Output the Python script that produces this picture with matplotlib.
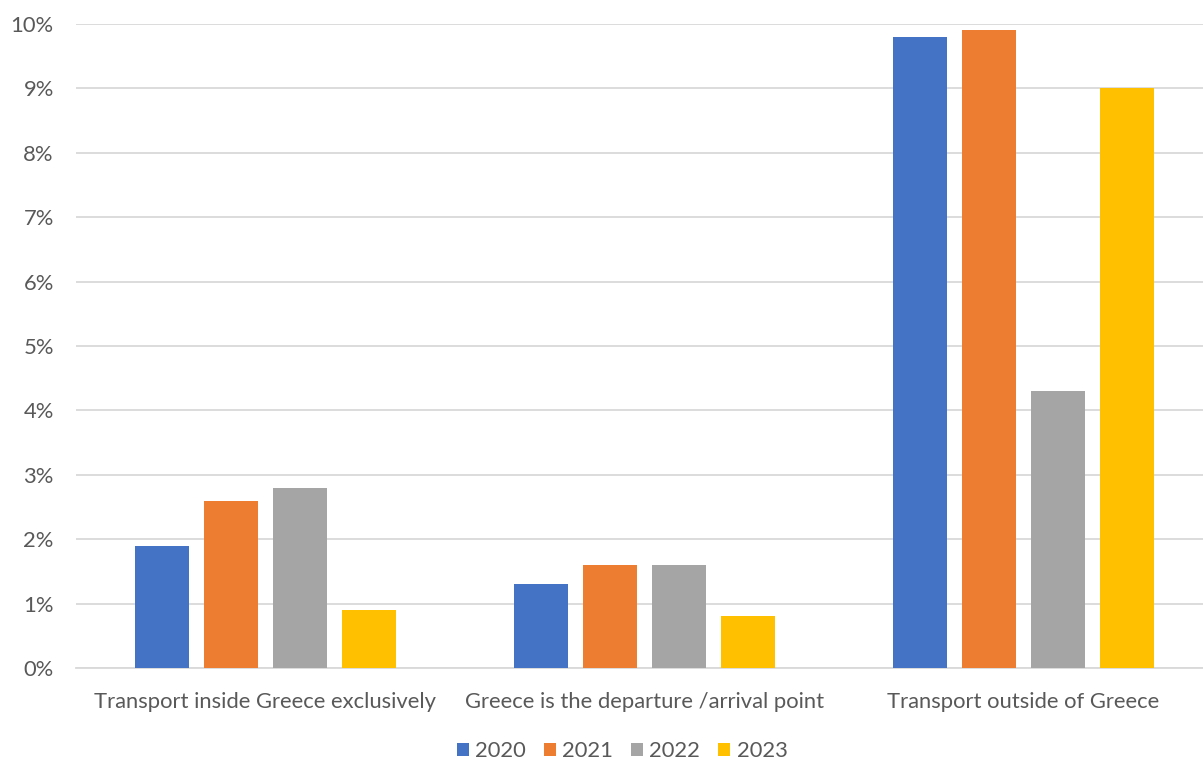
import matplotlib.pyplot as plt
import numpy as np

categories = ['Transport inside Greece exclusively',
              'Greece is the departure /arrival point',
              'Transport outside of Greece']
years = ['2020', '2021', '2022', '2023']
v2020 = [1.9, 1.3, 9.8]
v2021 = [2.6, 1.6, 9.9]
v2022 = [2.8, 1.6, 4.3]
v2023 = [0.9, 0.8, 9.0]
yticks = [0, 1, 2, 3, 4, 5, 6, 7, 8, 9, 10]

colours = ['#4472C4', '#ED7D31', '#A5A5A5', '#FFC000']
text_col = '#595959'
grid_col = '#D9D9D9'

plt.rcParams['font.family'] = ['Lato', 'DejaVu Sans']

fig = plt.figure(figsize=(12.03, 7.62), dpi=100)
# axes run a bit past the right edge, like the cropped original
ax = fig.add_axes([76 / 1203, 1 - 668 / 762, (1213 - 76) / 1203, (668 - 24) / 762])

x = np.arange(len(categories))
width = 0.1425
step = 0.182
series = [v2020, v2021, v2022, v2023]
for i, vals in enumerate(series):
    ax.bar(x + (i - 1.5) * step, vals, width, color=colours[i], label=years[i], zorder=3)

ax.set_xlim(-0.5, 2.5)
ax.set_ylim(0, 10)
ax.set_yticks(yticks)
ax.set_yticklabels([f'{t}%' for t in yticks])
ax.set_xticks(x)
ax.set_xticklabels(categories)
ax.grid(axis='y', color=grid_col, linewidth=1.3, zorder=0)
for s in ['top', 'right', 'left']:
    ax.spines[s].set_visible(False)
ax.spines['bottom'].set_color(grid_col)
ax.spines['bottom'].set_linewidth(1.3)
ax.tick_params(axis='both', length=0, colors=text_col, labelsize=15.8)
ax.tick_params(axis='x', pad=17)
ax.tick_params(axis='y', pad=16)

leg = fig.legend(loc='center', bbox_to_anchor=(622 / 1203, 1 - 751 / 762), ncol=4,
                 frameon=False, fontsize=15.8, handlelength=0.55, handleheight=0.55,
                 handletextpad=0.3, columnspacing=0.8)
for t in leg.get_texts():
    t.set_color(text_col)

fig.savefig('out.png', dpi=100)
